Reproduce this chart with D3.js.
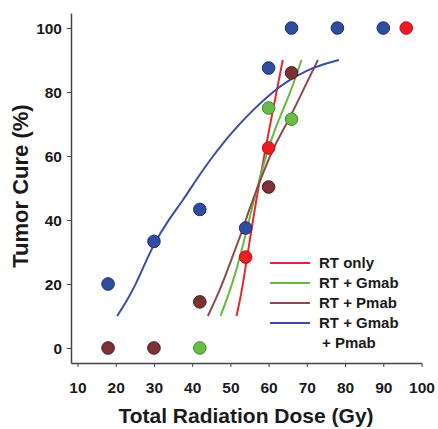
<!DOCTYPE html>
<html>
<head>
<meta charset="utf-8">
<script src="https://cdn.jsdelivr.net/npm/d3@7"></script>
<style>
  body { margin: 0; background: #fff; }
  svg { display: block; font-family: "Liberation Sans", Arial, sans-serif; }
</style>
</head>
<body>
<div id="wrapper"></div>
<script>
// tick values
const xTicks = [10, 20, 30, 40, 50, 60, 70, 80, 90, 100];
const yTicks = [0, 20, 40, 60, 80, 100];

// series names (legend order)
const seriesNames = ["RT only", "RT + Gmab", "RT + Pmab", "RT + Gmab\n + Pmab"];

// measured points [dose, cure %]
const rtOnlyPoints = [[54, 28.4], [60, 62.5], [96, 100]];
const rtGmabPoints = [[42, 0], [60, 75], [66, 71.5]];
const rtPmabPoints = [[18, 0], [30, 0], [42, 14.4], [60, 50.3], [66, 86]];
const rtGmabPmabPoints = [[18, 20], [30, 33.3], [42, 43.3], [54, 37.5], [60, 87.5], [66, 100], [78, 100], [90, 100]];

// fitted curves
const rtOnlyCurve = [[51.6, 10], [52.8, 16.5], [54, 25.5], [55.5, 37], [57.3, 50], [59.2, 62.5], [61, 73.5], [62.4, 82], [63.7, 90]];
const rtGmabCurve = [[47.4, 10], [49.5, 16.5], [51.5, 24], [53.5, 33], [55.5, 43], [57.5, 52.5], [59.8, 62], [62, 69.5], [64.5, 76.5], [66.5, 82.5], [68.6, 90]];
const rtPmabCurve = [[44.1, 10], [46.5, 16], [49, 23.5], [51, 30], [52.7, 35.3], [55, 43.5], [57.5, 51.5], [61, 62], [63.5, 67.5], [65.8, 72.5], [69, 80.5], [72.9, 90]];
const rtGmabPmabCurve = [[20.4, 10], [22.5, 14], [24.7, 18.5], [27.5, 26], [30.2, 33], [33.5, 39.5], [37.8, 46.5], [41, 52.5], [44.8, 59], [48.7, 65], [52, 69.5], [56, 74.5], [60.5, 79.5], [65, 83.5], [70, 86.8], [74, 88.6], [78.4, 90]];

const LINE_COLORS = ["#e8262e", "#66b944", "#8a4b4d", "#3a4d9e"];
const DOT_FILLS = ["#ec1c24", "#68bc46", "#7a3234", "#2f4d9f"];
const DOT_STROKES = ["#b3161c", "#3f8a2b", "#4b1d1e", "#1e2f6e"];
const AXIS_COLOR = "#444";
const TEXT_COLOR = "#1a1a1a";

const series = seriesNames.map((name, i) => ({
    name: name,
    points: [rtOnlyPoints, rtGmabPoints, rtPmabPoints, rtGmabPmabPoints][i],
    curve: [rtOnlyCurve, rtGmabCurve, rtPmabCurve, rtGmabPmabCurve][i],
    lineColor: LINE_COLORS[i],
    fill: DOT_FILLS[i],
    stroke: DOT_STROKES[i],
}));

const width = 438;
const height = 429;

const svg = d3.select("#wrapper")
    .append("svg")
    .attr("width", width)
    .attr("height", height);

const xScale = d3.scaleLinear()
    .domain([8.3, 100])
    .range([71, 421.5]);

const yScale = d3.scaleLinear()
    .domain([-4.7, 104.7])
    .range([363, 13]);

// axes
const xAxis = svg.append("g")
    .attr("transform", `translate(0, ${yScale.range()[0]})`)
    .call(d3.axisBottom(xScale).tickValues(xTicks).tickSize(4).tickSizeOuter(0).tickPadding(15));

const yAxis = svg.append("g")
    .attr("transform", `translate(${xScale.range()[0]}, 0)`)
    .call(d3.axisLeft(yScale).tickValues(yTicks).tickSize(4).tickSizeOuter(0).tickPadding(5));

[xAxis, yAxis].forEach(ax => {
    ax.select(".domain").attr("stroke", AXIS_COLOR).attr("stroke-width", 1.5);
    ax.selectAll(".tick line").attr("stroke", AXIS_COLOR).attr("stroke-width", 1);
    ax.selectAll(".tick text")
        .attr("fill", TEXT_COLOR)
        .style("font-size", "15.5px")
        .style("font-weight", "bold")
        .style("font-family", "'Liberation Sans', Arial, sans-serif");
});
yAxis.selectAll(".tick text").attr("dy", "0.36em");

// axis titles
svg.append("text")
    .attr("x", 246)
    .attr("y", 423)
    .attr("text-anchor", "middle")
    .attr("fill", TEXT_COLOR)
    .style("font-size", "21px")
    .style("font-weight", "bold")
    .text("Total Radiation Dose (Gy)");

svg.append("text")
    .attr("transform", "translate(28, 186) rotate(-90)")
    .attr("text-anchor", "middle")
    .attr("fill", TEXT_COLOR)
    .style("font-size", "22px")
    .style("font-weight", "bold")
    .text("Tumor Cure (%)");

// fitted curves
const lineGen = d3.line()
    .x(d => xScale(d[0]))
    .y(d => yScale(d[1]))
    .curve(d3.curveBasis);

svg.append("g")
    .selectAll("path")
    .data(series)
    .enter().append("path")
    .attr("d", d => lineGen(d.curve))
    .attr("fill", "none")
    .attr("stroke", d => d.lineColor)
    .attr("stroke-width", 2);

// measured points
series.forEach(s => {
    svg.append("g")
        .selectAll("circle")
        .data(s.points)
        .enter().append("circle")
        .attr("cx", d => xScale(d[0]))
        .attr("cy", d => yScale(d[1]))
        .attr("r", 6.3)
        .attr("fill", s.fill)
        .attr("stroke", s.stroke)
        .attr("stroke-width", 1);
});

// legend
const legend = svg.append("g");
const legendRows = legend.selectAll("g")
    .data(series)
    .enter().append("g")
    .attr("transform", (d, i) => `translate(0, ${263 + i * 20})`);

legendRows.append("line")
    .attr("x1", 270)
    .attr("x2", 310)
    .attr("stroke", d => d.lineColor)
    .attr("stroke-width", 2);

legendRows.each(function (d) {
    const lines = d.name.split("\n");
    const t = d3.select(this).append("text")
        .attr("fill", TEXT_COLOR)
        .style("font-size", "15px")
        .style("font-weight", "bold");
    lines.forEach((ln, j) => {
        t.append("tspan")
            .attr("x", j === 0 ? 319 : 322)
            .attr("y", j * 20)
            .attr("dy", "0.36em")
            .text(ln.trim());
    });
});
</script>
</body>
</html>
